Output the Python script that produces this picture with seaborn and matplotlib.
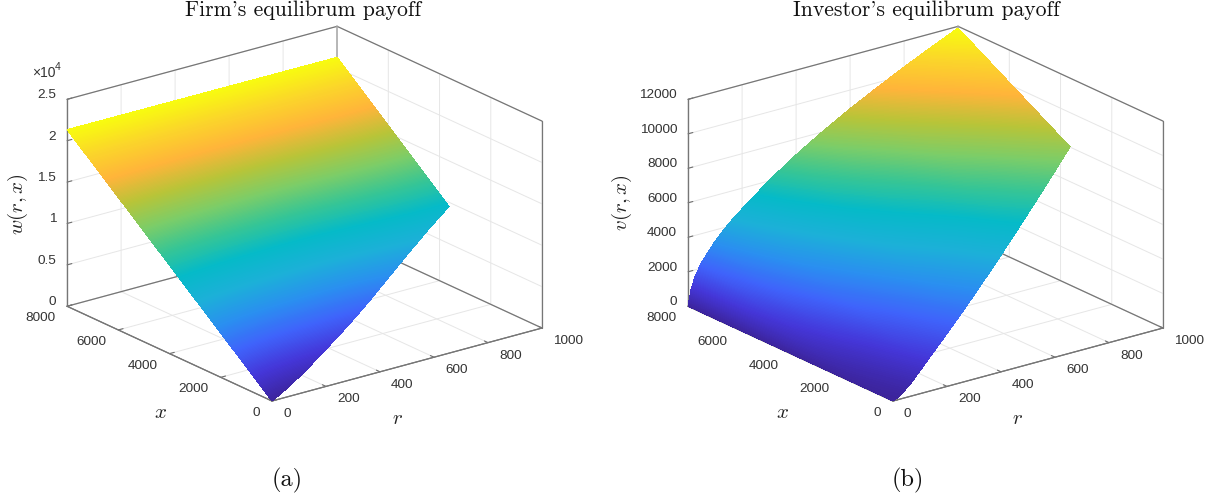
import numpy as np
import matplotlib
matplotlib.use("Agg")
import matplotlib.pyplot as plt
import seaborn as sns
from mpl_toolkits.mplot3d import proj3d

# ---- data ----
firm_r = [0, 50, 100, 175, 250, 325, 400, 475, 550, 650, 750, 875, 1000]
firm_x_low = [0, 182, 363, 635, 908, 1180, 1452, 1724, 1997, 2360, 2723, 3176, 3630]
firm_frac = [0, .25, .5, .75, 1]
firm_w = [
    [0, 5335, 10670, 16005, 21340],
    [170, 5461, 10753, 16044, 21335],
    [420, 5648, 10875, 16103, 21330],
    [900, 6006, 11113, 16219, 21325],
    [1490, 6448, 11405, 16363, 21320],
    [2150, 6941, 11733, 16524, 21315],
    [2820, 7443, 12065, 16688, 21310],
    [3560, 7996, 12433, 16869, 21305],
    [4370, 8603, 12835, 17068, 21300],
    [5600, 9523, 13445, 17368, 21290],
    [6810, 10428, 14045, 17663, 21280],
    [8260, 11513, 14765, 18018, 21270],
    [9500, 12440, 15380, 18320, 21260],
]

inv_r = [0, 10, 25, 50, 100, 150, 200, 300, 400, 500, 600, 700, 800, 900, 1000]
inv_x_low = [0, 36, 91, 182, 363, 545, 726, 1089, 1452, 1815, 2178, 2541, 2904, 3267, 3630]
inv_frac = [0, .25, .5, .75, 1]
inv_v = [
    [0, 0, 0, 0, 0],
    [3, 127, 332, 582, 870],
    [20, 247, 619, 1075, 1600],
    [90, 412, 939, 1586, 2330],
    [340, 772, 1481, 2351, 3350],
    [700, 1195, 2008, 3005, 4150],
    [1080, 1694, 2590, 3639, 4800],
    [1820, 2515, 3529, 4716, 6030],
    [2590, 3441, 4548, 5776, 7090],
    [3411, 4286, 5425, 6688, 8040],
    [4270, 5149, 6293, 7562, 8920],
    [5163, 6156, 7291, 8485, 9720],
    [6087, 7047, 8143, 9297, 10490],
    [7034, 7994, 9038, 10124, 11210],
    [8011, 8983, 9955, 10928, 11900],
]

r_ticks = [0, 200, 400, 600, 800, 1000]
x_ticks = [0, 2000, 4000, 6000, 8000]
w_ticks = [0, 5000, 10000, 15000, 20000, 25000]
w_labels = ["0", "0.5", "1", "1.5", "2", "2.5"]
v_ticks = [0, 2000, 4000, 6000, 8000, 10000, 12000]
cmap_colors = ["#3c249c", "#4436d8", "#3f63fb", "#2a8ff0", "#1cb0d8", "#05bac8",
               "#35c596", "#7ccd68", "#b8c438", "#ffb43a", "#fbd52a", "#f8fb10"]

sns.set_theme(style="white")
plt.rcParams["font.family"] = ["Liberation Sans", "DejaVu Sans"]
plt.rcParams["mathtext.fontset"] = "cm"
plt.rcParams["grid.color"] = "#e6e6e6"
plt.rcParams["grid.linewidth"] = 0.7
plt.rcParams["xtick.color"] = "#6e6e6e"
plt.rcParams["ytick.color"] = "#6e6e6e"
plt.rcParams["xtick.major.width"] = 0.8
plt.rcParams["ytick.major.width"] = 0.8

W, H = 1212, 496
LINE = "#767676"
fig = plt.figure(figsize=(W / 100, H / 100), dpi=100)
cmap = sns.blend_palette(cmap_colors, as_cmap=True)
ov = fig.add_axes([0, 0, 1, 1], zorder=10)
ov.set_xlim(0, W)
ov.set_ylim(H, 0)
ov.axis("off")
TICK_TEXT = dict(fontsize=9.7, color="#333333", va="center")


def to_px(ax, a, b, c):
    a, b, c = np.asarray(a, float), np.asarray(b, float), np.asarray(c, float)
    xs, ys, _ = proj3d.proj_transform(a.ravel(), b.ravel(), c.ravel(), ax.get_proj())
    p = ax.transData.transform(np.column_stack([xs, ys]))
    return p[:, 0].reshape(a.shape), H - p[:, 1].reshape(a.shape)


def panel(origin, zmax, zticks, zlabels, rs, xlow, frac, table):
    ax = fig.add_axes([origin[0] / W - .2, .05, 520 / W, 520 / H], projection="3d", proj_type="ortho")
    ax.view_init(elev=20.7, azim=-127.4)
    ax.set_xlim(0, 1000)
    ax.set_ylim(0, 8000)
    ax.set_zlim(0, zmax)
    ax.set_xticks(r_ticks)
    ax.set_yticks(x_ticks)
    ax.set_zticks(zticks)
    ax.set_xticklabels([])
    ax.set_yticklabels([])
    ax.set_zticklabels([])
    ax.patch.set_alpha(0)
    for a in (ax.xaxis, ax.yaxis, ax.zaxis):
        a.set_pane_color("white")
        a.pane.set_edgecolor("white")
        a.line.set_color(LINE)
        a.line.set_linewidth(0.8)
        a._axinfo["tick"]["inward_factor"] = 0.0
        a._axinfo["tick"]["outward_factor"] = 0.22
    ax.grid(True)
    # box edges
    edges = [((0, 8000, zmax), (1000, 8000, zmax)), ((1000, 8000, zmax), (1000, 0, zmax)),
             ((0, 8000, 0), (0, 8000, zmax)), ((1000, 0, 0), (1000, 0, zmax)),
             ((0, 8000, 0), (1000, 8000, 0)), ((1000, 8000, 0), (1000, 0, 0)),
             ((0, 0, 0), (0, 8000, 0)), ((0, 0, 0), (1000, 0, 0))]
    for p, q in edges:
        ax.plot([p[0], q[0]], [p[1], q[1]], [p[2], q[2]], color=LINE, lw=0.9)
    ax.plot([1000, 1000], [8000, 8000], [0, zmax], color="#a8a8a8", lw=1.1)
    # fit the box to the reference scale
    zoom = 1.0
    for _ in range(3):
        ax.set_box_aspect((340, 337.5, 221.3), zoom=zoom)
        fig.canvas.draw()
        px, py = to_px(ax, [0.0, 1000.0], [0.0, 0.0], [0.0, 0.0])
        zoom *= 270 / (px[1] - px[0])
    ax.set_box_aspect((340, 337.5, 221.3), zoom=zoom)
    fig.canvas.draw()
    px, py = to_px(ax, [0.0], [0.0], [0.0])
    pos = ax.get_position(original=True)
    ax.set_position([pos.x0 + (origin[0] - px[0]) / W, pos.y0 - (origin[1] - py[0]) / H, pos.width, pos.height])
    fig.canvas.draw()

    # tick labels
    for t in r_ticks:
        tx, ty = to_px(ax, [t], [0], [0])
        ov.text(tx[0] + 11, ty[0] + 13, str(t), ha="left", **TICK_TEXT)
    for t in x_ticks:
        tx, ty = to_px(ax, [0], [t], [0])
        ov.text(tx[0] - 12, ty[0] + 12, str(t), ha="right", **TICK_TEXT)
    for t, lab in zip(zticks, zlabels):
        tx, ty = to_px(ax, [0], [8000], [t])
        ov.text(tx[0] - 11, ty[0] - 4, lab, ha="right", **TICK_TEXT)

    # surface
    R = np.repeat(np.array(rs, float)[:, None], len(frac), axis=1)
    low = np.array(xlow, float)[:, None]
    X = low + (8000 - low) * np.array(frac)[None, :]
    Z = np.array(table, float)
    sx, sy = to_px(ax, R, X, Z)
    ov.contourf(sx, sy, Z, levels=np.linspace(0, Z.max() * 1.0001, 256), cmap=cmap, antialiased=False)
    return ax


panel((272, 401), 25000, w_ticks, w_labels, firm_r, firm_x_low, firm_frac, firm_w)
panel((893, 401), 12000, v_ticks, [str(t) for t in v_ticks], inv_r, inv_x_low, inv_frac, inv_v)

serif = ["cmr10", "DejaVu Serif"]
ov.text(303.5, 15.7, "Firm's equilibrum payoff", family=serif, fontsize=15.6, ha="center", va="baseline", color="#111111")
ov.text(926.5, 15.7, "Investor's equilibrum payoff", family=serif, fontsize=15.6, ha="center", va="baseline", color="#111111")
ov.text(287, 480, "(a)", family=serif, fontsize=17.5, ha="center", va="center", color="#111111")
ov.text(908, 480, "(b)", family=serif, fontsize=17.5, ha="center", va="center", color="#111111")
ov.text(18, 204, r"$w(r,x)$", fontsize=15, rotation=90, ha="center", va="center", color="#222222")
ov.text(622, 203, r"$v(r,x)$", fontsize=15, rotation=90, ha="center", va="center", color="#222222")
ov.text(161, 413, r"$x$", fontsize=15, ha="center", va="center", color="#222222")
ov.text(783, 413, r"$x$", fontsize=15, ha="center", va="center", color="#222222")
ov.text(397, 419, r"$r$", fontsize=15, ha="center", va="center", color="#222222")
ov.text(1018, 419, r"$r$", fontsize=15, ha="center", va="center", color="#222222")
ov.text(32, 73, "\u00d710", fontsize=10, ha="left", va="center", color="#333333")
ov.text(55, 67, "4", fontsize=7.5, ha="left", va="center", color="#333333")

fig.savefig("out.png", dpi=100)
